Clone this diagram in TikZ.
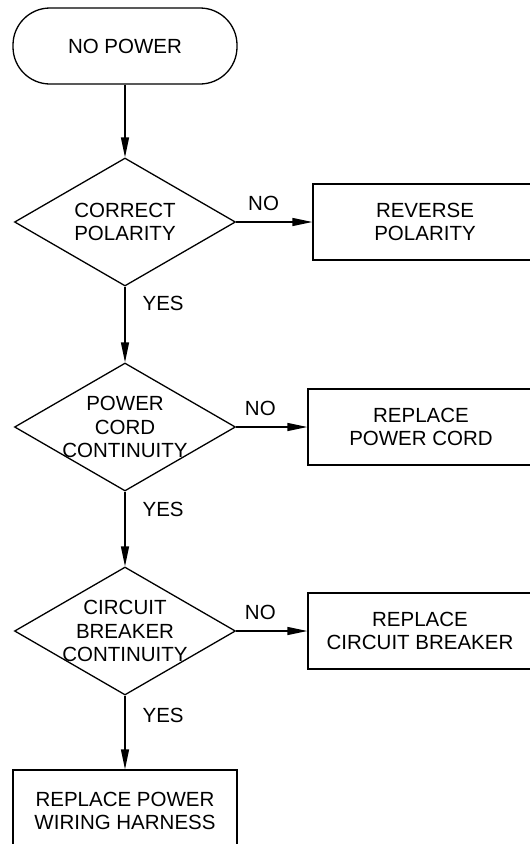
\documentclass[tikz,border=0pt]{standalone}
\usepackage{fontspec}
\setmainfont{Liberation Sans}
\usetikzlibrary{arrows.meta,positioning,shapes.geometric}
\tikzset{
  terminal/.style={draw,rectangle,rounded corners=37pt,minimum width=224pt,minimum height=76pt,align=center},
  decision/.style={draw,diamond,inner sep=0pt,minimum width=221pt,minimum height=128pt},
  action/.style={draw,rectangle,minimum width=224pt,minimum height=76pt,align=center},
  lbl/.style={inner sep=0pt}
}

\begin{document}
\begin{tikzpicture}[x=1pt,y=-1pt,>={Triangle[length=20pt,width=8pt]},line width=1.3pt,
  font=\fontsize{20.5}{23.5}\selectfont]
  \useasboundingbox (0,0) rectangle (530,844);
  \node[terminal] (start) at (125,46) {NO POWER};
  \node[decision,label={[align=center]center:CORRECT\\POLARITY}] (d1) at (125,222) {};
  \node[action] (rev) at (425,222) {REVERSE\\POLARITY};
  \node[decision,label={[align=center]center:POWER\\CORD\\CONTINUITY}] (d2) at (125,427) {};
  \node[action,minimum width=226pt] (cord) at (421,427) {REPLACE\\POWER CORD};
  \node[decision,label={[align=center]center:CIRCUIT\\BREAKER\\CONTINUITY}] (d3) at (125,631) {};
  \node[action] (brk) at (420,631) {REPLACE\\CIRCUIT BREAKER};
  \node[action,minimum height=82pt] (harn) at (125,811) {REPLACE POWER\\WIRING HARNESS};

  \draw[->] (start.south) -- (d1.north);
  \draw[->] (d1.east) -- node[lbl,above=11pt,pos=.36] {NO} (rev.west);
  \draw[->] (d1.south) -- node[lbl,anchor=north west,pos=0,xshift=17pt,yshift=-9pt] {YES} (d2.north);
  \draw[->] (d2.east) -- node[lbl,above=11pt,pos=.34] {NO} (cord.west);
  \draw[->] (d2.south) -- node[lbl,anchor=north west,pos=0,xshift=17pt,yshift=-10pt] {YES} (d3.north);
  \draw[->] (d3.east) -- node[lbl,above=11pt,pos=.34] {NO} (brk.west);
  \draw[->] (d3.south) -- node[lbl,anchor=north west,pos=0,xshift=17pt,yshift=-12pt] {YES} (harn.north);
\end{tikzpicture}
\end{document}
